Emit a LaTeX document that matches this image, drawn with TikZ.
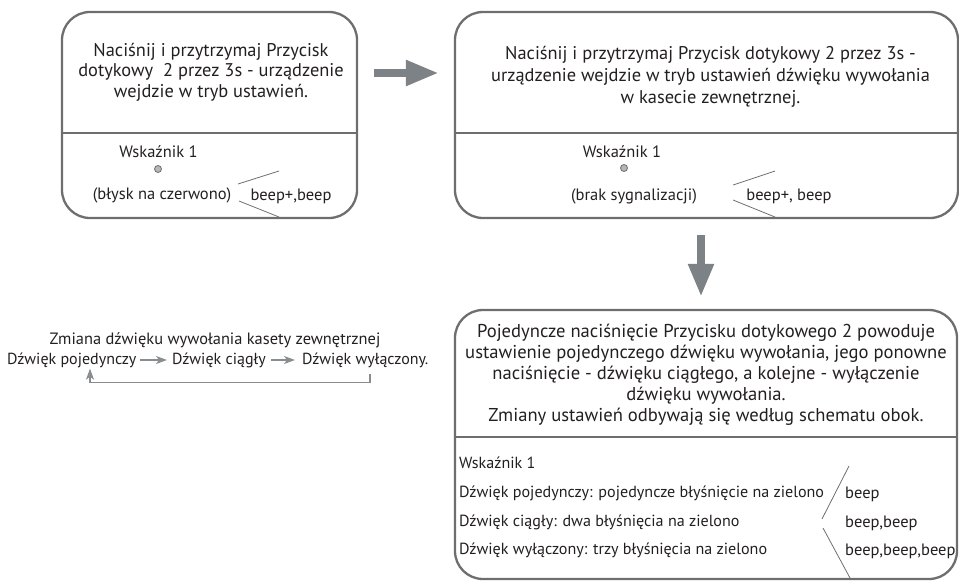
\documentclass[tikz,border=0pt]{standalone}
\usepackage{fontspec}
\setmainfont{PT Sans}
\usetikzlibrary{arrows.meta,calc}
\definecolor{edge}{HTML}{6D6E70}
\definecolor{ink}{HTML}{231F20}
\definecolor{arr}{HTML}{7D8286}
\definecolor{sarr}{HTML}{8A8D90}
\definecolor{dotc}{HTML}{B5B7B9}
\tikzset{
  card/.style={draw=edge, line width=2.3pt, rounded corners=28pt, inner sep=0pt},
  divline/.style={draw=edge, line width=1.4pt},
  toptxt/.style={text=ink, font=\fontsize{18.4}{20.5}\selectfont, inner sep=0pt, align=center},
  toptxtb/.style={text=ink, font=\fontsize{18.4}{22}\selectfont, inner sep=0pt, align=center},
  txt/.style={text=ink, font=\fontsize{16.5}{20}\selectfont, inner sep=0pt, align=center},
  bigtxt/.style={text=ink, font=\fontsize{18.6}{21}\selectfont, inner sep=0pt, align=center},
  listtxt/.style={text=ink, font=\fontsize{16.1}{20}\selectfont, inner sep=0pt, anchor=west},
  beeptxt/.style={text=ink, font=\fontsize{16.5}{20}\selectfont, inner sep=0pt, anchor=west},
  flowtxt/.style={text=ink, font=\fontsize{16}{20}\selectfont, inner sep=0pt, anchor=west},
  headtxt/.style={text=ink, font=\fontsize{16.4}{20}\selectfont, inner sep=0pt},
  bigarrow/.style={draw=arr, line width=8pt, -{Triangle[length=33pt,width=24pt]}},
  smallarr/.style={draw=sarr, line width=1.1pt, -{Stealth[length=11pt,width=8pt,inset=3pt]}},
  brk/.style={draw=edge, line width=0.8pt},
  led/.style={circle, draw=edge, fill=dotc, line width=0.8pt, minimum size=7pt, inner sep=0pt}
}
\begin{document}
\begin{tikzpicture}[x=1pt,y=-1pt]
\useasboundingbox (0,0) rectangle (959,581);
% boxes
\node[card, minimum width=295pt, minimum height=206pt] (b1) at (209.5,115) {};
\node[card, minimum width=503pt, minimum height=206pt] (b2) at (706.5,115) {};
\node[card, minimum width=502pt, minimum height=269pt] (b3) at (706,444.5) {};
\draw[divline] (b1.west |- 0,133) -- (b1.east |- 0,133);
\draw[divline] (b2.west |- 0,133) -- (b2.east |- 0,133);
\draw[divline] (b3.west |- 0,437) -- (b3.east |- 0,437);
% box 1
\node[toptxt] (t1) at (211,72) {Naciśnij i przytrzymaj Przycisk\\dotykowy\ \ 2 przez 3s - urządzenie\\wejdzie w tryb ustawień.};
\node[txt] (w1) at (158.5,152) {Wskaźnik 1};
\node[led] (d1) at (158,169) {};
\node[txt] (f1) at (162,195) {(błysk na czerwono)};
\node[txt] (bp1) at (291,196) {beep+,beep};
\draw[brk] (279,171) -- (238,184);
\draw[brk] (239,201) -- (279,217);
% box 2
\node[toptxtb] (t2) at (710.5,77) {Naciśnij i przytrzymaj Przycisk dotykowy 2 przez 3s -\\urządzenie wejdzie w tryb ustawień dźwięku wywołania\\w kasecie zewnętrznej.};
\node[txt] (w2) at (622,152) {Wskaźnik\ 1};
\node[led] (d2) at (624,168) {};
\node[txt] (f2) at (634,196) {(brak sygnalizacji)};
\node[txt] (bp2) at (789,196) {beep+, beep};
\draw[brk] (775,171) -- (733,185);
\draw[brk] (733,200) -- (775,217);
% arrows between boxes
\draw[bigarrow] ($(b1.east |- 0,73)+(16,0)$) -- ($(b2.west |- 0,73)+(-15,0)$);
\draw[bigarrow] ($(b2.south)+(-5.5,16)$) -- ($(b3.north)+(-5,-12)$);
% box 3
\node[bigtxt] (t3) at (706,375) {Pojedyncze naciśnięcie Przycisku dotykowego 2 powoduje\\ustawienie pojedynczego dźwięku wywołania, jego ponowne\\naciśnięcie - dźwięku ciągłego, a kolejne - wyłączenie\\dźwięku wywołania.\\Zmiany ustawień odbywają się według schematu obok.};
\node[listtxt] (w3) at (459,463) {Wskaźnik 1};
\node[listtxt] (l1) at (459,493) {Dźwięk pojedynczy: pojedyncze błyśnięcie na zielono};
\node[listtxt] (l2) at (459,522) {Dźwięk ciągły: dwa błyśnięcia na zielono};
\node[listtxt] (l3) at (459,550) {Dźwięk wyłączony: trzy błyśnięcia na zielono};
\node[beeptxt] (r1) at (845,494) {beep};
\node[beeptxt] (r2) at (845,523) {beep,beep};
\node[beeptxt] (r3) at (845,551) {beep,beep,beep};
\draw[brk] (849,466) -- (822,519);
\draw[brk] (823,528) -- (850,578);
% left diagram
\node[headtxt] (zh) at (215,340) {Zmiana dźwięku wywołania kasety zewnętrznej};
\node[flowtxt] (s1) at (7,360) {Dźwięk pojedynczy};
\node[flowtxt] (s2) at (172,360) {Dźwięk ciągły};
\node[flowtxt] (s3) at (302,360) {Dźwięk wyłączony.};
\draw[smallarr, shorten <=3pt, shorten >=5pt] (s1) -- (s2);
\draw[smallarr, shorten <=5pt, shorten >=7pt] (s2) -- (s3);
\draw[smallarr] ($(s3.south -| 370,0)+(0,6)$) |- ($(s1.south -| 90,0)+(0,15)$) -- ($(s1.south -| 90,0)+(0,1)$);
\end{tikzpicture}
\end{document}
